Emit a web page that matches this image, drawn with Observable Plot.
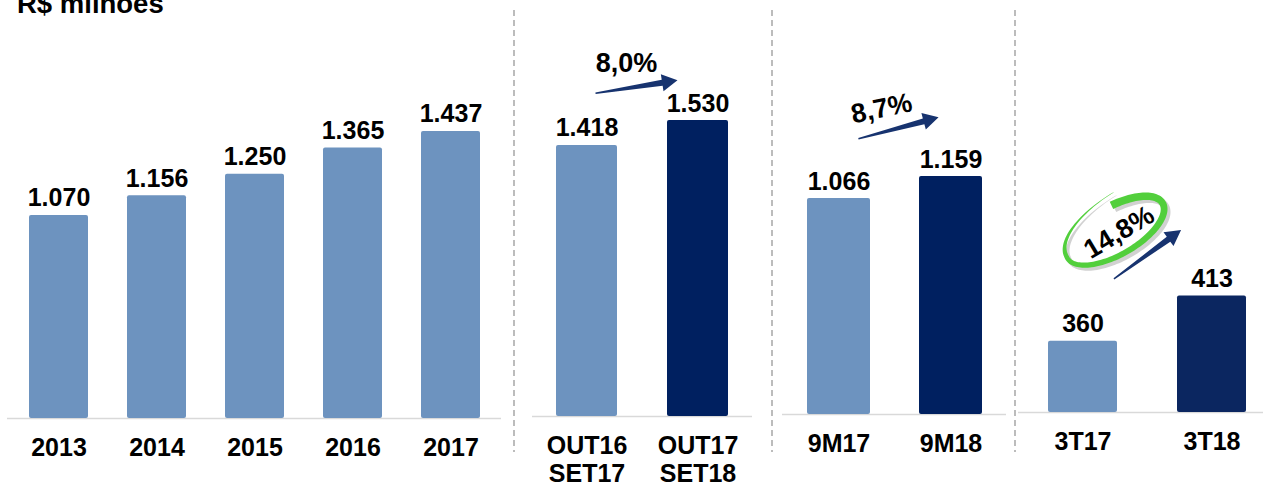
<!DOCTYPE html>
<html><head><meta charset="utf-8">
<script src="https://cdn.jsdelivr.net/npm/d3@7"></script>
<script src="https://cdn.jsdelivr.net/npm/@observablehq/plot@0.6"></script>
<style>
html,body{margin:0;padding:0;background:#fff;}
#chart{position:relative;width:1263px;height:484px;overflow:hidden;font-family:"Liberation Sans",Arial,sans-serif;}
#title{position:absolute;left:17px;top:-10px;font-size:27.5px;font-weight:bold;line-height:27px;white-space:nowrap;color:#000;}
</style></head><body>
<div id="chart"><div id="title">R$ milhões</div></div>
<script>
// ---- data ----
const annualCategories = ["2013", "2014", "2015", "2016", "2017"];
const annualValues = [1070, 1156, 1250, 1365, 1437];
const annualKinds = ["anterior", "anterior", "anterior", "anterior", "anterior"];

const ltmCategories = ["OUT16 SET17", "OUT17 SET18"];
const ltmValues = [1418, 1530];

const ytdCategories = ["9M17", "9M18"];
const ytdValues = [1066, 1159];

const quarterCategories = ["3T17", "3T18"];
const quarterValues = [360, 413];

const pairKinds = ["anterior", "atual"];
const growthLabels = ["8,0%", "8,7%", "14,8%"];

// ---- helpers ----
const br = d3.formatLocale({decimal: ",", thousands: ".", grouping: [3], currency: ["R$ ", ""]});
const fmt = br.format(",");
const FONT = '"Liberation Sans", Arial, sans-serif';

const arrowSymbol = {draw(ctx) {
  ctx.moveTo(-41.5, -0.7);
  ctx.lineTo(26, -3);
  ctx.lineTo(26, -8.5);
  ctx.lineTo(41.5, 0);
  ctx.lineTo(26, 8.5);
  ctx.lineTo(26, 3);
  ctx.lineTo(-41.5, 0.7);
  ctx.closePath();
}};

const ringSymbol = {draw(ctx) {
  const A = 55, B = 24, N = 140;
  const t0 = -80 * Math.PI / 180, t1 = 283 * Math.PI / 180;
  const outer = [], inner = [];
  for (let i = 0; i <= N; i++) {
    const u = i / N, t = t0 + (t1 - t0) * u;
    const w = u < 0.75 ? 8 - 3.5 * u / 0.75 : Math.max(0.5, 4.5 * (1 - (u - 0.75) / 0.25));
    const s = u < 0.72 ? 1 : 1 + 0.45 * Math.pow((u - 0.72) / 0.28, 1.6);
    const cx = A * s * Math.cos(t), cy = B * s * Math.sin(t);
    let nx = Math.cos(t) / A, ny = Math.sin(t) / B;
    const nl = Math.hypot(nx, ny); nx /= nl; ny /= nl;
    outer.push([cx + nx * w / 2, cy + ny * w / 2]);
    inner.push([cx - nx * w / 2, cy - ny * w / 2]);
  }
  ctx.moveTo(outer[0][0], outer[0][1]);
  for (const p of outer.slice(1)) ctx.lineTo(p[0], p[1]);
  for (const p of inner.reverse()) ctx.lineTo(p[0], p[1]);
  ctx.closePath();
}};

function panel({cats, vals, kinds, left, width, margin, yDomain, pad, align = 0.5, dark, extra = () => []}) {
  const data = cats.map((c, i) => ({cat: c, value: vals[i], kind: kinds[i]}));
  const svg = Plot.plot({
    width, height: 484,
    marginLeft: margin[0], marginRight: margin[1], marginTop: 0, marginBottom: margin[2],
    style: {fontFamily: FONT, fontWeight: "bold", fontSize: "25px", color: "#000", background: "transparent"},
    x: {type: "band", domain: cats, paddingInner: pad[0], paddingOuter: pad[1], align, axis: null, label: null},
    y: {domain: yDomain, clamp: true, axis: null},
    color: {domain: ["anterior", "atual"], range: ["#6D93BF", dark]},
    marks: [
      Plot.ruleY([yDomain[0]], {stroke: "#D9D9D9", strokeWidth: 1.5}),
      Plot.barY(data, {x: "cat", y: "value", fill: "kind", rx: 2}),
      Plot.text(data, {x: "cat", y: "value", text: d => fmt(d.value), dy: -9, lineAnchor: "bottom",
        fontSize: 25, fontWeight: "bold", fill: "#000"}),
      Plot.axisX({label: null, tickSize: 0, tickPadding: 17, fontSize: 25, fontWeight: "bold", lineHeight: 1.13,
        tickFormat: d => d.replace(" ", "\n")}),
      ...extra(cats)
    ]
  });
  svg.style.position = "absolute";
  svg.style.left = left + "px";
  svg.style.top = "0px";
  document.getElementById("chart").appendChild(svg);
}

panel({cats: annualCategories, vals: annualValues, kinds: annualKinds,
  left: 0, width: 514, margin: [7, 13, 66], yDomain: [183, 2009], pad: [0.4, 0.2], dark: "#002060"});

panel({cats: ltmCategories, vals: ltmValues, kinds: pairKinds,
  left: 514, width: 258, margin: [18, 20, 68], yDomain: [203, 2068], pad: [0.45, 0.21], dark: "#002060",
  extra: cats => [
    Plot.dot([{cat: cats[0], v: 1681}], {x: "cat", y: "v", dx: 49.5, rotate: -9, symbol: arrowSymbol, fill: "#17336F"}),
    Plot.text([growthLabels[0]], {x: () => cats[0], y: () => 1786, text: d => d, dx: 39.5, fontSize: 27, fontWeight: "bold", fill: "#000"})
  ]});

panel({cats: ytdCategories, vals: ytdValues, kinds: pairKinds,
  left: 772, width: 243, margin: [10, 9, 70], yDomain: [153, 1903], pad: [0.44, 0.22], dark: "#002060",
  extra: cats => [
    Plot.dot([{cat: cats[0], v: 1364}], {x: "cat", y: "v", dx: 59.5, rotate: -15, symbol: arrowSymbol, fill: "#17336F"}),
    Plot.text([growthLabels[1]], {x: () => cats[0], y: () => 1446, text: d => d, dx: 42.5, rotate: -12, fontSize: 27, fontWeight: "bold", fill: "#000"})
  ]});

panel({cats: quarterCategories, vals: quarterValues, kinds: pairKinds,
  left: 1015, width: 248, margin: [3, 0, 72], yDomain: [276, 761], pad: [0.465, 0.182], align: 0.64, dark: "#0B2660",
  extra: cats => [
    Plot.dot([{cat: cats[0], v: 490}], {x: "cat", y: "v", dx: 35, dy: 3, rotate: -30, symbol: ringSymbol, fill: "#000", fillOpacity: 0.18}),
    Plot.dot([{cat: cats[0], v: 490}], {x: "cat", y: "v", dx: 32, rotate: -30, symbol: ringSymbol, fill: "#52CF3C"}),
    Plot.text([growthLabels[2]], {x: () => cats[0], y: () => 488, text: d => d, dx: 36, rotate: -31, fontSize: 27, fontWeight: "bold", fill: "#000"}),
    Plot.dot([{cat: cats[0], v: 462}], {x: "cat", y: "v", dx: 64.5, rotate: -36, symbol: arrowSymbol, fill: "#17336F"})
  ]});

// dashed separators between the panels
const sep = d3.select("#chart").append("svg")
  .attr("width", 1263).attr("height", 484)
  .style("position", "absolute").style("left", "0px").style("top", "0px").style("pointer-events", "none");
sep.selectAll("line").data([514, 772, 1015]).join("line")
  .attr("x1", d => d).attr("x2", d => d).attr("y1", 10).attr("y2", 452)
  .attr("stroke", "#A6A6A6").attr("stroke-width", 1.5).attr("stroke-dasharray", "6,4");
</script>
</body></html>
